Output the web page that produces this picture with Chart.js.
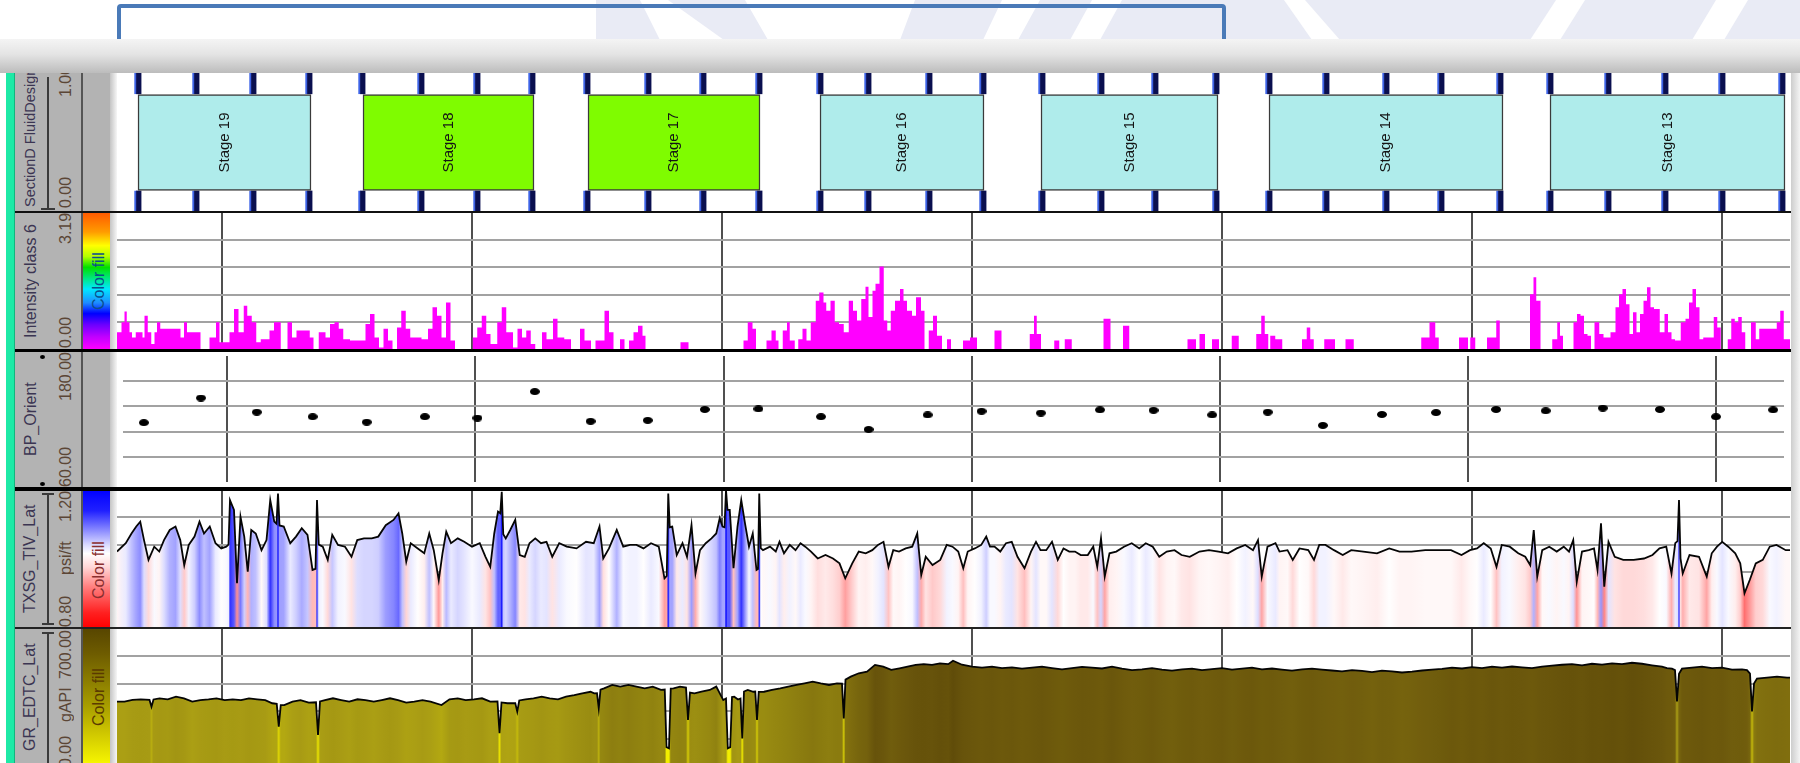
<!DOCTYPE html>
<html>
<head>
<meta charset="utf-8">
<title>Lateral log view – Stages 19 to 13</title>
<script src="https://cdn.jsdelivr.net/npm/chart.js@4.4.1/dist/chart.umd.min.js"></script>
<style>
  html, body { margin: 0; padding: 0; }
  body { width: 1800px; height: 763px; overflow: hidden; position: relative; background: #ffffff;
         font-family: "Liberation Sans", Arial, sans-serif; }
  .abs { position: absolute; }
  .vt { position: absolute; width: 20px; line-height: 20px; writing-mode: vertical-rl; transform: rotate(180deg);
        white-space: nowrap; overflow: hidden; font-size: 16px; z-index: 5; }
  .nm { color: #3b3552; }
  .vl { color: #5b4636; }
  canvas { position: absolute; z-index: 2; }
  .sep { position: absolute; left: 15px; width: 1776px; background: #000; z-index: 6; }
</style>
</head>
<body>

<!-- slide background motif -->
<svg class="abs" style="left:0;top:0;z-index:0" width="1800" height="40">
  <polygon points="596,0 1800,0 1800,40 596,40" fill="#e9ebf5"/>
  <polygon points="640,0 668,0 724,40 660,40" fill="#ffffff"/>
  <polygon points="745,0 915,0 900,40 768,40" fill="#ffffff"/>
  <polygon points="1002,0 1040,0 1018,40 983,40" fill="#ffffff"/>
  <polygon points="1092,0 1122,0 1100,40 1070,40" fill="#ffffff"/>
  <polygon points="1284,0 1305,0 1340,40 1312,40" fill="#ffffff"/>
  <polygon points="1556,0 1585,0 1560,40 1530,40" fill="#ffffff"/>
  <polygon points="1716,0 1748,0 1724,40 1692,40" fill="#ffffff"/>
</svg>
<div class="abs" style="left:117px;top:4px;width:1101px;height:70px;border:4px solid #4a7ab8;border-radius:4px;z-index:1"></div>
<div class="abs" style="left:0;top:39px;width:1800px;height:34px;z-index:20;background:linear-gradient(#f4f4f4,#e4e4e4 45%,#bcbcbc)"></div>

<!-- log panel -->
<div class="abs" style="left:0;top:73px;width:1791px;height:690px;background:#ffffff;z-index:1"></div>
<div class="abs" style="left:1791px;top:73px;width:9px;height:690px;z-index:1;background:linear-gradient(to right,#cdcdcd,#f4f4f4)"></div>
<div class="abs" style="left:6px;top:73px;width:8px;height:690px;background:#1de9a6;border-right:1px solid #12b47e;z-index:3"></div>
<div class="abs" style="left:15px;top:73px;width:95px;height:690px;background:#b3b3b3;z-index:3"></div>
<div class="abs" style="left:81px;top:73px;width:2px;height:690px;background:#555;z-index:4"></div>
<div class="abs" style="left:110px;top:73px;width:7px;height:690px;z-index:3;background:linear-gradient(to right,#c4c4c4,#f6f6f6)"></div>

<!-- colour legends of the filled tracks -->
<div class="abs" style="left:83px;top:213px;width:27px;height:136px;z-index:4;background:linear-gradient(#ff5a00 0%,#ff9c00 14%,#ffff00 24%,#b4ff00 32%,#00e000 40%,#00e890 49%,#00e8ff 56%,#1e8cff 66%,#0000ff 74%,#6a00ff 82%,#c000ff 91%,#ff00ff 100%)"></div>
<div class="abs" style="left:83px;top:490px;width:27px;height:138px;z-index:4;background:linear-gradient(#0000ff 0%,#2020ff 15%,#9090ff 30%,#dcdcff 40%,#ffffff 46%,#ffd6d6 56%,#ff8080 70%,#ff2020 89%,#ff0000 100%)"></div>
<div class="abs" style="left:83px;top:629px;width:27px;height:138px;z-index:4;background:linear-gradient(#584600 0%,#6e5c00 18%,#8a7c00 37%,#aaa000 57%,#d0c800 76%,#f2f000 95%,#ffff00 100%)"></div>

<!-- scale bars -->
<div class="abs" style="left:47px;top:77px;width:2px;height:133px;background:#3a3a3a;z-index:5"></div>
<div class="abs" style="left:41px;top:208px;width:14px;height:2px;background:#3a3a3a;z-index:5"></div>
<div class="abs" style="left:47px;top:493px;width:2px;height:132px;background:#3a3a3a;z-index:5"></div>
<div class="abs" style="left:42px;top:493px;width:12px;height:2px;background:#3a3a3a;z-index:5"></div>
<div class="abs" style="left:42px;top:623px;width:12px;height:2px;background:#3a3a3a;z-index:5"></div>
<div class="abs" style="left:47px;top:632px;width:2px;height:135px;background:#3a3a3a;z-index:5"></div>
<div class="abs" style="left:42px;top:632px;width:12px;height:2px;background:#3a3a3a;z-index:5"></div>
<!-- BP_Orient symbol -->
<div class="abs" style="left:40px;top:355px;width:5px;height:4px;border-radius:50%;background:#000;z-index:5"></div>
<div class="abs" style="left:40px;top:482px;width:5px;height:4px;border-radius:50%;background:#000;z-index:5"></div>

<!-- track headers -->
<div class="vt nm" style="left:20px;top:73px;height:134px;text-align:start;font-size:14.5px">SectionD FluidDesign</div>
<div class="vt vl" style="left:56px;top:66px;height:44px;text-align:end">1.00</div>
<div class="vt vl" style="left:56px;top:168px;height:40px;text-align:start">0.00</div>

<div class="vt nm" style="left:21px;top:212px;height:138px;text-align:center">Intensity class 6</div>
<div class="vt vl" style="left:56px;top:213px;height:40px;text-align:end">3.19</div>
<div class="vt vl" style="left:56px;top:308px;height:40px;text-align:start">0.00</div>
<div class="vt" style="left:89px;top:212px;height:138px;text-align:center;color:#0b4f8c">Color fill</div>

<div class="vt nm" style="left:21px;top:350px;height:138px;text-align:center">BP_Orient</div>
<div class="vt vl" style="left:56px;top:352px;height:60px;text-align:end">180.00</div>
<div class="vt vl" style="left:56px;top:427px;height:60px;text-align:start">60.00</div>

<div class="vt nm" style="left:20px;top:489px;height:139px;text-align:center">TXSG_TIV_Lat</div>
<div class="vt vl" style="left:56px;top:491px;height:40px;text-align:end">1.20</div>
<div class="vt vl" style="left:56px;top:508px;height:100px;text-align:center">psi/ft</div>
<div class="vt vl" style="left:56px;top:587px;height:40px;text-align:start">0.80</div>
<div class="vt" style="left:89px;top:502px;height:136px;text-align:center;color:#8a2f2f">Color fill</div>

<div class="vt nm" style="left:20px;top:628px;height:139px;text-align:center">GR_EDTC_Lat</div>
<div class="vt vl" style="left:56px;top:630px;height:60px;text-align:end">700.00</div>
<div class="vt vl" style="left:56px;top:655px;height:100px;text-align:center">gAPI</div>
<div class="vt vl" style="left:56px;top:727px;height:40px;text-align:start">0.00</div>
<div class="vt" style="left:89px;top:628px;height:139px;text-align:center;color:#5a3a00">Color fill</div>

<!-- tracks -->
<canvas id="cvStage" width="1673" height="139" style="left:117px;top:73px"></canvas>
<canvas id="cvInt" width="1673" height="138" style="left:117px;top:212px"></canvas>
<canvas id="cvBp" width="1673" height="138" style="left:117px;top:350px"></canvas>
<canvas id="cvTxsg" width="1673" height="139" style="left:117px;top:489px"></canvas>
<canvas id="cvGr" width="1673" height="139" style="left:117px;top:628px"></canvas>

<div class="sep" style="top:211px;height:2px;background:#111"></div>
<div class="sep" style="top:349px;height:3px"></div>
<div class="sep" style="top:487px;height:4px"></div>
<div class="sep" style="top:627px;height:2px;background:#222"></div>

<script>
// ---------------- depth window (ft MD) ----------------
const depthMin = 9958.0;
const depthMax = 10627.2;
const depthGridStep = 100;

// ---------------- completion design ----------------
const stageName  = ['Stage 19', 'Stage 18', 'Stage 17', 'Stage 16', 'Stage 15', 'Stage 14', 'Stage 13'];
const stageTop   = [9966.4, 10056.4, 10146.4, 10239.2, 10327.6, 10418.8, 10531.2];
const stageBase  = [10035.6, 10124.8, 10215.2, 10304.8, 10398.4, 10512.4, 10625.2];
const stageFluid = [0, 1, 1, 0, 0, 0, 0];
const clusterDepth = [
  9966.4, 9989.6, 10012.4, 10034.8, 10056.0, 10079.6, 10102.0, 10124.0, 10146.0, 10170.4,
  10192.4, 10214.8, 10239.2, 10258.4, 10282.8, 10304.4, 10328.0, 10351.6, 10373.2, 10397.6,
  10418.8, 10441.6, 10465.6, 10487.6, 10511.2, 10531.2, 10554.4, 10577.2, 10600.0, 10624.0
];

// ---------------- BP_Orient (deg) ----------------
const bpDepth = [
  9966.4, 9989.4, 10011.9, 10034.4, 10056.2, 10079.6, 10100.8, 10123.9, 10146.4, 10169.4,
  10192.4, 10214.0, 10239.2, 10258.4, 10282.2, 10303.9, 10327.8, 10351.6, 10373.2, 10396.8,
  10419.2, 10441.4, 10465.2, 10487.0, 10511.2, 10531.2, 10554.2, 10577.2, 10599.8, 10622.8
];
const bpOrient = [
  116.5, 140.0, 126.5, 122.2, 117.0, 122.2, 120.9, 146.1, 117.8, 118.7,
  129.1, 129.6, 122.2, 110.0, 123.9, 127.4, 125.7, 128.7, 128.3, 123.9,
  126.5, 113.9, 124.3, 126.1, 129.1, 127.8, 130.4, 129.1, 122.2, 128.7
];

// ---------------- Intensity class 6 (block log, value holds from each depth to the next) ----------------
const intensityDepth = [
  9958.0, 9959.8, 9961.0, 9961.9, 9963.0, 9964.0, 9965.5, 9968.2, 9969.0, 9970.3,
  9971.7, 9973.0, 9974.0, 9975.3, 9983.4, 9984.8, 9986.0, 9991.4, 9995.0, 9997.6,
  9999.0, 10003.0, 10004.8, 10006.6, 10008.7, 10010.1, 10011.9, 10013.7, 10015.5, 10019.0,
  10020.8, 10023.5, 10026.2, 10028.0, 10029.8, 10035.1, 10036.6, 10038.7, 10041.4, 10043.2,
  10045.0, 10046.7, 10048.5, 10051.2, 10057.4, 10059.2, 10061.0, 10062.8, 10064.6, 10066.4,
  10068.2, 10070.0, 10071.7, 10073.5, 10075.3, 10079.8, 10082.4, 10084.2, 10086.0, 10087.8,
  10089.6, 10091.4, 10093.2, 10100.3, 10102.1, 10103.9, 10105.7, 10107.4, 10110.1, 10111.9,
  10113.7, 10116.4, 10118.2, 10120.0, 10121.7, 10123.5, 10125.3, 10128.0, 10129.8, 10132.4,
  10134.2, 10136.9, 10139.6, 10143.2, 10145.0, 10147.6, 10149.4, 10153.0, 10154.8, 10156.6,
  10159.2, 10161.0, 10162.8, 10164.6, 10166.4, 10168.2, 10169.4, 10183.4, 10186.6, 10208.6,
  10210.3, 10212.2, 10213.6, 10217.8, 10219.8, 10221.5, 10222.6, 10224.3, 10226.0, 10227.1,
  10229.1, 10230.5, 10232.2, 10233.8, 10235.5, 10237.5, 10238.9, 10240.6, 10241.7, 10243.4,
  10245.1, 10246.8, 10248.7, 10250.7, 10252.4, 10254.0, 10255.7, 10257.4, 10258.6, 10260.2,
  10261.4, 10263.0, 10264.7, 10266.1, 10267.5, 10269.2, 10271.2, 10272.6, 10274.0, 10276.0,
  10277.6, 10279.6, 10281.0, 10282.7, 10284.4, 10286.0, 10288.0, 10290.0, 10291.6, 10296.4,
  10299.2, 10302.0, 10309.0, 10311.8, 10323.1, 10324.8, 10325.9, 10327.6, 10332.9, 10334.9,
  10337.1, 10339.9, 10352.6, 10355.4, 10360.4, 10362.9, 10386.2, 10389.6, 10391.0, 10393.2,
  10396.0, 10398.8, 10403.9, 10406.7, 10413.7, 10415.7, 10417.1, 10418.5, 10419.3, 10421.3,
  10424.1, 10432.0, 10433.9, 10435.3, 10436.7, 10440.9, 10445.2, 10449.4, 10452.7, 10479.7,
  10483.0, 10485.3, 10486.7, 10494.8, 10498.4, 10499.3, 10501.3, 10506.0, 10509.7, 10511.1,
  10523.2, 10524.6, 10525.7, 10527.4, 10532.1, 10534.1, 10535.2, 10536.4, 10540.6, 10542.0,
  10543.4, 10544.8, 10546.2, 10547.6, 10549.0, 10550.9, 10552.6, 10555.4, 10557.4, 10558.8,
  10560.2, 10561.6, 10563.0, 10564.4, 10565.8, 10567.2, 10568.6, 10570.0, 10571.4, 10572.8,
  10575.1, 10577.0, 10578.4, 10579.8, 10581.2, 10583.5, 10585.4, 10586.8, 10588.2, 10589.6,
  10591.0, 10592.5, 10596.7, 10598.1, 10599.5, 10602.3, 10603.7, 10605.1, 10606.5, 10607.9,
  10609.3, 10611.6, 10613.5, 10614.9, 10621.9, 10623.3, 10624.7, 10627.2
];
const intensityClass = [
  0.41, 0.64, 0.89, 0.64, 0.41, 0.29, 0.41, 0.29, 0.79, 0.41,
  0.14, 0.41, 0.64, 0.49, 0.29, 0.64, 0.41, 0, 0.29, 0.64,
  0.18, 0.41, 0.95, 0.41, 1.02, 0.79, 0.64, 0.18, 0.25, 0.45,
  0.64, 0, 0.64, 0.29, 0.45, 0.29, 0, 0.41, 0.29, 0.60,
  0.64, 0.49, 0.25, 0.22, 0.60, 0.83, 0.29, 0.06, 0.49, 0.22,
  0, 0.52, 0.91, 0.49, 0.29, 0.25, 0.49, 0.99, 0.79, 0.29,
  1.10, 0.22, 0, 0.29, 0.52, 0.79, 0.37, 0.14, 0.64, 0.99,
  0.41, 0.06, 0.49, 0.29, 0.45, 0.14, 0, 0.41, 0.25, 0.72,
  0.29, 0.25, 0, 0.49, 0.22, 0, 0.22, 0.91, 0.41, 0,
  0.25, 0, 0.22, 0.41, 0.56, 0.33, 0, 0.18, 0, 0.22,
  0.64, 0.49, 0, 0.22, 0.45, 0.22, 0, 0.45, 0.64, 0.22,
  0, 0.25, 0.49, 0.22, 0.64, 1.14, 1.33, 1.10, 0.91, 1.14,
  0.64, 0.60, 0.41, 1.14, 0.91, 0.68, 1.18, 1.46, 0.76, 1.37,
  1.53, 1.93, 0.68, 0.45, 0.91, 1.14, 1.41, 1.14, 0.91, 0.79,
  1.22, 0.91, 0, 0.45, 0.79, 0.33, 0, 0.25, 0, 0.22,
  0.29, 0, 0.45, 0, 0.37, 0.79, 0.37, 0, 0.22, 0,
  0.25, 0, 0.72, 0, 0.56, 0, 0.25, 0, 0.37, 0,
  0.25, 0, 0.33, 0, 0.37, 0.79, 0.37, 0, 0.33, 0.25,
  0, 0.25, 0.52, 0.25, 0, 0.25, 0, 0.25, 0, 0.29,
  0.64, 0.29, 0, 0.29, 0, 0.29, 0, 0.29, 0.68, 0,
  1.29, 1.68, 1.14, 0, 0.25, 0.64, 0.33, 0, 0.64, 0.83,
  0.79, 0.37, 0.33, 0, 0.64, 0.37, 0.29, 0.41, 0.99, 1.29,
  1.41, 1.06, 0.37, 0.87, 0.41, 0.83, 1.14, 1.45, 0.99, 0.95,
  0.41, 0.83, 0.41, 0.25, 0.22, 0.64, 0.72, 1.10, 1.41, 0.99,
  0.25, 0.29, 0.76, 0.52, 0, 0.25, 0.72, 0.64, 0.76, 0.41,
  0, 0.64, 0.25, 0.49, 0.64, 0.91, 0.25, 0.25
];

// ---------------- TXSG_TIV_Lat (psi/ft) ----------------
const txsgDepth = [
  9958.0, 9961.5, 9963.8, 9965.7, 9967.3, 9968.8, 9970.6, 9972.9, 9974.9, 9976.8,
  9979.1, 9981.4, 9983.3, 9984.9, 9986.7, 9989.0, 9991.0, 9992.8, 9995.1, 9997.4,
  9999.7, 10001.7, 10002.6, 10003.2, 10004.8, 10006.0, 10007.4, 10008.9, 10010.3, 10011.7, 10013.5,
  10015.8, 10017.8, 10019.3, 10020.9, 10021.8, 10022.4, 10023.0, 10024.7, 10027.3, 10029.6, 10031.9, 10034.2,
  10036.2, 10037.4, 10038.0, 10038.7, 10040.3, 10042.3, 10044.1, 10046.4, 10049.2, 10051.8, 10054.1, 10056.8,
  10059.9, 10062.5, 10065.5, 10068.6, 10070.6, 10072.1, 10073.7, 10075.5, 10078.3, 10080.9,
  10082.9, 10084.7, 10086.7, 10088.2, 10089.7, 10091.6, 10094.3, 10096.9, 10100.0, 10103.1,
  10105.4, 10107.3, 10108.9, 10110.4, 10111.3, 10111.9, 10112.5, 10113.5, 10115.3, 10117.3, 10119.1, 10121.1,
  10123.0, 10125.3, 10127.6, 10129.8, 10132.1, 10134.9, 10137.9, 10141.8, 10145.6, 10148.7,
  10151.0, 10152.5, 10154.8, 10157.9, 10160.5, 10163.2, 10165.8, 10168.6, 10171.6, 10174.7,
  10177.0, 10177.9, 10178.5, 10179.1, 10180.1, 10181.9, 10184.2, 10186.0, 10187.8, 10189.4, 10191.2, 10193.5,
  10195.8, 10197.7, 10199.1, 10200.2, 10201.0, 10201.6, 10202.2, 10203.1, 10204.6, 10206.2, 10207.7, 10209.2,
  10210.8, 10212.3, 10213.8, 10214.4, 10214.9, 10215.5, 10216.4, 10219.2, 10221.5, 10223.0, 10224.8, 10227.1,
  10229.4, 10231.4, 10233.3, 10235.6, 10238.3, 10241.4, 10244.4, 10247.0, 10249.3, 10252.1,
  10254.7, 10257.5, 10260.1, 10262.4, 10264.6, 10266.6, 10268.5, 10270.8, 10273.5, 10276.1,
  10278.1, 10279.7, 10281.5, 10284.2, 10287.3, 10289.9, 10292.2, 10294.5, 10296.5, 10298.3,
  10301.1, 10303.7, 10305.7, 10307.2, 10309.0, 10311.3, 10313.6, 10315.9, 10318.2, 10321.0,
  10323.6, 10325.6, 10327.4, 10329.7, 10332.0, 10334.3, 10336.6, 10338.9, 10341.2, 10343.5,
  10346.3, 10348.5, 10350.1, 10351.6, 10353.1, 10355.0, 10357.7, 10360.8, 10363.9, 10366.9,
  10369.5, 10372.3, 10374.9, 10377.9, 10381.0, 10383.8, 10387.1, 10391.0, 10394.8, 10398.6,
  10402.4, 10405.9, 10409.3, 10412.4, 10414.4, 10415.9, 10418.2, 10421.4, 10423.0, 10426.2,
  10428.3, 10431.0, 10434.5, 10436.8, 10438.9, 10441.4, 10444.8, 10448.3, 10451.7, 10456.5,
  10462.0, 10466.9, 10471.0, 10475.8, 10481.3, 10486.8, 10491.6, 10495.8, 10499.2, 10502.0,
  10504.7, 10507.5, 10509.8, 10511.9, 10515.1, 10518.5, 10521.3, 10523.3, 10524.7, 10526.1,
  10528.1, 10530.9, 10533.9, 10536.7, 10538.8, 10540.5, 10541.9, 10544.0, 10546.7, 10548.8,
  10550.2, 10551.6, 10552.9, 10554.6, 10557.1, 10560.5, 10564.7, 10568.8, 10572.2, 10575.0,
  10577.7, 10579.8, 10581.3, 10582.2, 10582.8, 10583.4, 10584.3, 10587.0, 10590.8, 10593.9, 10595.9, 10598.0,
  10600.1, 10602.5, 10605.3, 10607.3, 10609.0, 10611.1, 10613.5, 10616.3, 10619.1, 10621.8,
  10625.5, 10628.0
];
const txsgValue = [
  1.020, 1.044, 1.072, 1.092, 1.106, 1.053, 0.996, 1.034, 1.020, 1.053,
  1.082, 1.092, 1.053, 0.981, 1.039, 1.063, 1.106, 1.072, 1.092, 1.044,
  1.029, 1.034, 1.040, 1.168, 1.140, 0.929, 1.120, 1.063, 0.962, 1.082, 1.072,
  1.024, 1.053, 1.168, 1.106, 1.100, 1.187, 1.095, 1.092, 1.044, 1.063, 1.087, 1.068,
  0.967, 0.970, 1.168, 1.040, 1.034, 0.996, 1.068, 1.039, 1.034, 1.005, 1.053, 1.058,
  1.058, 1.063, 1.096, 1.111, 1.130, 1.072, 0.991, 1.044, 1.029, 1.015,
  1.072, 1.024, 0.938, 1.015, 1.077, 1.044, 1.058, 1.048, 1.034, 1.044,
  1.005, 0.976, 1.072, 1.135, 1.130, 1.192, 1.070, 1.058, 1.082, 1.111, 1.010, 1.005,
  1.044, 1.058, 1.044, 1.048, 1.005, 1.044, 1.034, 1.029, 1.048, 1.044,
  1.092, 1.000, 1.029, 1.082, 1.034, 1.039, 1.039, 1.029, 1.044, 1.034,
  0.943, 0.950, 1.187, 1.090, 1.092, 1.010, 1.044, 1.005, 1.096, 0.957, 1.024, 1.044,
  1.058, 1.072, 1.116, 1.092, 1.090, 1.197, 1.140, 1.140, 0.972, 1.092, 1.168, 1.101,
  1.034, 1.072, 0.967, 0.970, 1.187, 1.030, 1.024, 1.034, 1.020, 1.048, 1.015, 1.039,
  1.024, 1.044, 1.034, 1.020, 1.000, 1.010, 1.000, 0.986, 0.943, 0.986,
  1.020, 1.015, 1.024, 1.039, 1.048, 0.976, 1.024, 1.020, 1.029, 1.034,
  1.072, 0.953, 1.005, 0.981, 0.996, 1.039, 1.034, 1.020, 0.972, 1.020,
  1.029, 1.039, 1.063, 1.034, 1.034, 1.020, 1.044, 1.048, 1.005, 0.972,
  1.020, 1.048, 1.024, 1.024, 1.048, 0.996, 1.029, 1.020, 1.020, 1.010,
  1.010, 1.034, 0.976, 1.058, 0.948, 1.015, 1.020, 1.034, 1.044, 1.029,
  1.044, 1.034, 1.005, 1.020, 1.024, 1.010, 1.005, 1.020, 1.024, 1.020,
  1.015, 1.029, 1.039, 1.024, 1.053, 0.948, 1.034, 1.044, 1.020, 1.024,
  0.996, 1.029, 1.024, 0.996, 1.039, 1.039, 1.024, 1.010, 1.024, 1.020,
  1.015, 1.029, 1.020, 1.020, 1.024, 1.024, 1.024, 1.010, 1.024, 1.029,
  1.044, 1.029, 0.976, 1.039, 1.034, 1.015, 1.005, 0.981, 1.082, 0.948,
  1.024, 1.034, 1.020, 1.034, 1.020, 1.053, 0.933, 1.020, 1.024, 1.029,
  0.967, 1.101, 0.919, 1.048, 1.005, 0.996, 0.996, 1.000, 1.010, 1.029,
  1.034, 0.957, 1.044, 1.050, 1.168, 1.000, 0.957, 1.010, 1.005, 0.948, 1.015, 1.034,
  1.048, 1.034, 1.015, 0.986, 0.900, 0.938, 0.986, 0.996, 1.034, 1.039,
  1.024, 1.024
];

// ---------------- GR_EDTC_Lat (gAPI) ----------------
const grDepth = [
  9958.0, 9961.0, 9964.2, 9967.5, 9971.0, 9971.8, 9972.6, 9975.0, 9978.3, 9981.6, 9984.8, 9988.1,
  9991.3, 9994.6, 9997.8, 10001.1, 10004.3, 10007.6, 10010.8, 10014.1, 10017.3, 10020.1,
  10021.9, 10022.7, 10023.5, 10024.9, 10028.2, 10031.4, 10034.7, 10037.6, 10038.4, 10039.2, 10041.2, 10044.4, 10047.7, 10050.9,
  10054.2, 10057.4, 10060.7, 10063.9, 10067.2, 10070.4, 10073.7, 10076.9, 10080.2, 10083.4,
  10087.8, 10091.0, 10094.3, 10097.5, 10100.8, 10104.0, 10107.3, 10110.2, 10111.0, 10111.8, 10114.2, 10117.3, 10118.1, 10118.9,
  10121.4, 10124.6, 10127.9, 10131.1, 10134.4, 10137.6, 10140.9, 10144.1, 10147.4, 10148.9,
  10150.0, 10150.7, 10151.4, 10152.8, 10156.1, 10159.3, 10162.6, 10165.8, 10169.1, 10172.3, 10175.6, 10177.1, 10177.8,
  10178.8, 10179.5, 10180.6, 10183.2, 10185.6, 10186.4, 10187.2, 10189.0, 10191.8, 10195.1, 10197.7, 10200.5, 10201.6, 10202.3,
  10203.3, 10204.0, 10204.9, 10206.4, 10207.4, 10208.1, 10208.8, 10210.3, 10212.5, 10213.3, 10214.0, 10214.7, 10216.8, 10220.0, 10223.3,
  10226.5, 10229.8, 10233.0, 10236.3, 10239.5, 10242.8, 10246.0, 10248.0, 10248.7, 10249.4, 10251.5, 10254.7,
  10258.0, 10261.2, 10264.5, 10267.7, 10271.0, 10274.2, 10277.5, 10280.7, 10284.0, 10287.2,
  10290.5, 10292.4, 10296.0, 10300.0, 10304.0, 10308.0, 10312.0, 10316.0, 10320.0, 10324.0,
  10328.0, 10332.0, 10336.0, 10340.0, 10344.0, 10348.0, 10352.0, 10356.0, 10360.0, 10364.0,
  10368.0, 10372.0, 10376.0, 10380.0, 10384.0, 10388.0, 10392.0, 10396.0, 10400.0, 10404.0,
  10408.0, 10412.0, 10416.0, 10420.0, 10424.0, 10428.0, 10432.0, 10436.0, 10440.0, 10444.0,
  10448.0, 10452.0, 10456.0, 10460.0, 10464.0, 10468.0, 10472.0, 10476.0, 10480.0, 10484.0,
  10488.0, 10492.0, 10496.0, 10500.0, 10504.0, 10508.0, 10512.0, 10516.0, 10520.0, 10524.0,
  10528.0, 10532.0, 10536.0, 10540.0, 10544.0, 10548.0, 10552.0, 10556.0, 10560.0, 10564.0,
  10568.0, 10572.0, 10576.0, 10578.0, 10580.0, 10581.2, 10582.0, 10582.8, 10584.0, 10588.0, 10592.0, 10596.0,
  10600.0, 10604.0, 10608.0, 10610.0, 10611.2, 10612.0, 10612.8, 10614.0, 10618.0, 10622.0, 10626.0, 10628.0
];
const grValue = [
  329, 329, 338, 341, 338, 304, 340, 346, 341, 354, 346, 329,
  337, 341, 346, 337, 341, 337, 346, 341, 337, 321,
  318, 203, 312, 312, 329, 337, 324, 326, 161, 330, 337, 346, 337, 329,
  341, 337, 329, 337, 346, 337, 324, 329, 337, 329,
  312, 341, 346, 337, 341, 346, 329, 330, 170, 325, 321, 322, 279, 335,
  341, 346, 354, 346, 341, 354, 362, 371, 379, 371,
  372, 295, 390, 396, 413, 405, 413, 405, 396, 405, 388, 390, 100,
  94, 395, 396, 405, 400, 237, 375, 371, 379, 388, 405, 337, 345, 94,
  100, 352, 354, 340, 345, 144, 380, 388, 379, 380, 237, 378, 379, 388, 396,
  405, 413, 421, 430, 421, 413, 421, 420, 245, 440, 455, 472,
  480, 514, 505, 489, 497, 505, 514, 518, 514, 522,
  518, 535, 515, 505, 500, 505, 498, 502, 495, 500,
  505, 498, 492, 498, 504, 500, 496, 505, 495, 488,
  492, 498, 490, 485, 492, 495, 488, 493, 498, 490,
  495, 500, 492, 496, 490, 485, 492, 495, 490, 486,
  482, 488, 484, 478, 485, 482, 476, 480, 486, 490,
  494, 500, 496, 503, 498, 505, 500, 506, 502, 498,
  505, 510, 515, 518, 512, 520, 516, 522, 518, 525,
  520, 512, 505, 498, 495, 488, 330, 470, 495, 500, 505, 498,
  500, 490, 492, 488, 470, 280, 420, 445, 450, 455, 450, 450
];

// ================= drawing =================
Chart.defaults.font.family = '"Liberation Sans", Arial, sans-serif';

const fluidColor = ['#afeceb', '#7ffc00'];

const baseOptions = {
  responsive: false,
  animation: false,
  devicePixelRatio: 1,
  events: [],
  layout: { padding: 0 },
  plugins: { legend: { display: false }, tooltip: { enabled: false } }
};

function depthAxis(showGrid) {
  return {
    type: 'linear', min: depthMin, max: depthMax, offset: false, display: showGrid,
    afterFit: s => { s.height = 0; },
    ticks: { display: false, stepSize: depthGridStep, includeBounds: false },
    grid: { color: '#505050', lineWidth: 2, drawTicks: false, offset: false },
    border: { display: false }
  };
}
function valueAxis(min, max, divisions) {
  return {
    type: 'linear', min, max, offset: false, display: true,
    afterFit: s => { s.width = 0; },
    afterBuildTicks: s => {
      const t = [];
      for (let i = 1; i < divisions; i++) t.push({ value: min + (max - min) * i / divisions });
      s.ticks = t;
    },
    ticks: { display: false },
    grid: { color: '#a2a2a2', lineWidth: 2, drawTicks: false },
    border: { display: false }
  };
}

// colour of a depth-indexed fill, laid out along the depth axis
function depthGradient(ctx, depths, values, colorOf) {
  const chart = ctx.chart;
  const area = chart.chartArea;
  if (!area) return 'rgba(0,0,0,0)';
  const xs = chart.scales.x;
  const w = area.right - area.left;
  const g = chart.ctx.createLinearGradient(area.left, 0, area.right, 0);
  depths.forEach((d, i) => {
    const t = (xs.getPixelForValue(d) - area.left) / w;
    if (t >= 0 && t <= 1) g.addColorStop(t, colorOf(values[i]));
  });
  return g;
}

function txsgColor(v) {
  const mid = 1.03;
  if (v >= mid) {
    const t = Math.min(1, (v - mid) / (1.2 - mid));
    const c = Math.round(255 * (1 - t));
    return `rgb(${c},${c},255)`;
  }
  const t = Math.min(1, (mid - v) / (mid - 0.8));
  const c = Math.round(255 * (1 - t));
  return `rgb(255,${c},${c})`;
}

const grRamp = [
  [0, [255, 255, 0]], [150, [236, 230, 0]], [260, [206, 196, 8]], [330, [170, 158, 20]],
  [400, [146, 132, 16]], [460, [124, 106, 14]], [500, [108, 88, 12]], [540, [94, 74, 8]], [700, [74, 54, 0]]
];
function grColor(v) {
  for (let i = 1; i < grRamp.length; i++) {
    if (v <= grRamp[i][0]) {
      const [v0, c0] = grRamp[i - 1], [v1, c1] = grRamp[i];
      const t = Math.max(0, (v - v0) / (v1 - v0));
      const c = c0.map((a, k) => Math.round(a + (c1[k] - a) * t));
      return `rgb(${c[0]},${c[1]},${c[2]})`;
    }
  }
  const c = grRamp[grRamp.length - 1][1];
  return `rgb(${c[0]},${c[1]},${c[2]})`;
}

function ellipseSymbol(w, h, color) {
  const c = document.createElement('canvas');
  c.width = w; c.height = h;
  const g = c.getContext('2d');
  g.fillStyle = color;
  g.beginPath();
  g.ellipse(w / 2, h / 2, w / 2, h / 2, 0, 0, Math.PI * 2);
  g.fill();
  return c;
}

// stage names written up the middle of each stage box
const stageLabels = {
  id: 'stageLabels',
  afterDatasetsDraw(chart) {
    const meta = chart.getDatasetMeta(0);
    const ctx = chart.ctx;
    ctx.save();
    ctx.font = '15px "Liberation Sans", Arial, sans-serif';
    ctx.fillStyle = '#151515';
    ctx.textAlign = 'center';
    ctx.textBaseline = 'middle';
    meta.data.forEach((bar, i) => {
      const p = bar.getCenterPoint();
      ctx.save();
      ctx.translate(p.x, p.y);
      ctx.rotate(-Math.PI / 2);
      ctx.fillText(stageName[i], 0, 0);
      ctx.restore();
    });
    ctx.restore();
  }
};

// ---- track 1: stages and perforation clusters ----
new Chart(document.getElementById('cvStage'), {
  type: 'bar',
  data: {
    datasets: [
      {
        indexAxis: 'y', grouped: false, barThickness: 96,
        data: stageName.map((n, i) => ({ x: [stageTop[i], stageBase[i]], y: 0.5 })),
        backgroundColor: stageFluid.map(f => fluidColor[f]),
        borderColor: '#3a3a3a', borderWidth: 1.5, borderSkipped: false
      },
      {
        grouped: false, barThickness: 7,
        data: clusterDepth.map(d => ({ x: d, y: [0.848, 1.0] })),
        backgroundColor: '#0a0f4f', borderColor: '#3d63e6',
        borderWidth: { left: 2, right: 0, top: 0, bottom: 0 }, borderSkipped: false
      },
      {
        grouped: false, barThickness: 7,
        data: clusterDepth.map(d => ({ x: d, y: [0.0, 0.155] })),
        backgroundColor: '#0a0f4f', borderColor: '#3d63e6',
        borderWidth: { left: 2, right: 0, top: 0, bottom: 0 }, borderSkipped: false
      }
    ]
  },
  options: {
    ...baseOptions,
    scales: {
      x: depthAxis(false),
      y: { type: 'linear', min: 0, max: 1, offset: false, display: false }
    }
  },
  plugins: [stageLabels]
});

// ---- track 2: intensity class ----
new Chart(document.getElementById('cvInt'), {
  type: 'line',
  data: {
    datasets: [{
      data: intensityDepth.map((d, i) => ({ x: d, y: intensityClass[i] })),
      stepped: true, fill: 'origin', backgroundColor: '#ff00ff',
      borderWidth: 0, pointRadius: 0
    }]
  },
  options: { ...baseOptions, scales: { x: depthAxis(true), y: valueAxis(0, 3.19, 5) } }
});

// ---- track 3: BP orientation ----
new Chart(document.getElementById('cvBp'), {
  type: 'scatter',
  data: {
    datasets: [{
      data: bpDepth.map((d, i) => ({ x: d, y: bpOrient[i] })),
      pointStyle: ellipseSymbol(10, 7, '#000000'), pointRadius: 5
    }]
  },
  options: { ...baseOptions, scales: { x: depthAxis(true), y: valueAxis(60, 180, 5) } }
});

// ---- track 4: TXSG with colour fill ----
new Chart(document.getElementById('cvTxsg'), {
  type: 'line',
  data: {
    datasets: [{
      data: txsgDepth.map((d, i) => ({ x: d, y: txsgValue[i] })),
      borderColor: '#050505', borderWidth: 1.8, pointRadius: 0, tension: 0,
      fill: 'start',
      backgroundColor: ctx => depthGradient(ctx, txsgDepth, txsgValue, txsgColor)
    }]
  },
  options: { ...baseOptions, scales: { x: depthAxis(true), y: valueAxis(0.8, 1.2, 5) } }
});

// ---- track 5: gamma ray with colour fill ----
new Chart(document.getElementById('cvGr'), {
  type: 'line',
  data: {
    datasets: [{
      data: grDepth.map((d, i) => ({ x: d, y: grValue[i] })),
      borderColor: '#050505', borderWidth: 1.8, pointRadius: 0, tension: 0,
      fill: 'start',
      backgroundColor: ctx => depthGradient(ctx, grDepth, grValue, grColor)
    }]
  },
  options: { ...baseOptions, scales: { x: depthAxis(true), y: valueAxis(0, 700, 5) } }
});
</script>
</body>
</html>
